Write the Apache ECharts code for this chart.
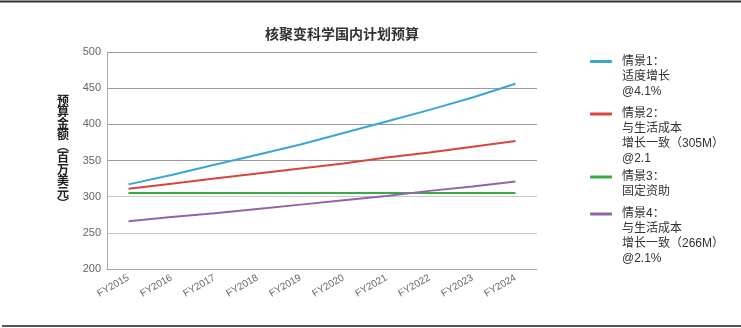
<!DOCTYPE html>
<html>
<head>
<meta charset="utf-8">
<script src="https://cdn.jsdelivr.net/npm/echarts@6/dist/echarts.min.js"></script>
<style>html,body{margin:0;padding:0;background:#fff;}#c{width:741px;height:328px;}</style>
</head>
<body>
<div id="c"></div>
<script>
const categories = ['FY2015','FY2016','FY2017','FY2018','FY2019','FY2020','FY2021','FY2022','FY2023','FY2024'];
const scenario1 = [317, 330, 344, 358, 372, 388, 404, 420, 437, 456];
const scenario2 = [311, 318, 325, 332, 339, 346, 354, 361, 369, 377];
const scenario3 = [305, 305, 305, 305, 305, 305, 305, 305, 305, 305];
const scenario4 = [266, 272, 277, 283, 289, 295, 301, 308, 314, 321];
const seriesNames = ['情景1：', '情景2：', '情景3：', '情景4：'];
const legendLines = [
  ['情景1：', '适度增长', '@4.1%'],
  ['情景2：', '与生活成本', '增长一致（305M）', '@2.1'],
  ['情景3：', '固定资助'],
  ['情景4：', '与生活成本', '增长一致（266M）', '@2.1%']
];
const yTicks = [200, 250, 300, 350, 400, 450, 500];
const titleText = '核聚变科学国内计划预算';
const yName = ['预','算','金','额','︵','百','万','美','元','︶'];

const FONT = "'Liberation Sans', 'Noto Sans CJK SC', sans-serif";
const colors = ['#3aa6d6', '#d9443c', '#3aaa45', '#8e66a8'];
const dataAll = [scenario1, scenario2, scenario3, scenario4];
const L = 15;
const iconCenters = [61.5, 114, 177, 214];

const legends = legendLines.map((lines, i) => {
  const n = lines.length;
  const N = 2 * n - 1;
  return {
    data: [seriesNames[i]],
    left: 590,
    top: iconCenters[i] - N * L / 2,
    padding: 0,
    icon: 'roundRect',
    itemWidth: 22,
    itemHeight: 3,
    selectedMode: false,
    formatter: function () {
      const blanks = new Array(n - 1).fill(' ');
      return blanks.concat(lines).join('\n');
    },
    textStyle: { fontSize: 12, color: '#333', lineHeight: L, fontFamily: FONT, padding: [0, 0, 0, 5] }
  };
});

const chart = echarts.init(document.getElementById('c'));
chart.setOption({
  backgroundColor: '#fff',
  animation: false,
  color: colors,
  title: {
    text: titleText,
    left: 337,
    top: 23,
    textAlign: 'center',
    textStyle: { fontSize: 14, fontWeight: 'bold', color: '#333', fontFamily: FONT }
  },
  legend: legends,
  grid: { left: 107, right: 204, top: 52, bottom: 59 },
  xAxis: {
    type: 'category',
    data: categories,
    boundaryGap: true,
    axisLine: { show: true, lineStyle: { color: '#aaa', width: 1 } },
    axisTick: { show: false },
    axisLabel: { interval: 0, rotate: 30, color: '#666', fontSize: 10, fontFamily: FONT, margin: 8 },
    splitLine: { show: false }
  },
  yAxis: {
    type: 'value',
    min: yTicks[0],
    max: yTicks[yTicks.length - 1],
    interval: 50,
    axisLine: { show: true, lineStyle: { color: '#aaa', width: 1 } },
    axisTick: { show: false },
    axisLabel: { color: '#666', fontSize: 11, fontFamily: FONT, margin: 6 },
    splitLine: { show: true, lineStyle: { color: ['#aaa', '#c8c8c8', '#c8c8c8', '#999', '#999', '#999', '#999'], width: 1 } }
  },
  series: dataAll.map((d, i) => ({
    name: seriesNames[i],
    type: 'line',
    data: d,
    symbol: 'none',
    smooth: false,
    lineStyle: { width: 2, color: colors[i] },
    itemStyle: { color: colors[i] }
  })),
  graphic: [
    { type: 'line', shape: { x1: 0, y1: 1.5, x2: 741, y2: 1.5 }, style: { stroke: '#333', lineWidth: 2 } },
    { type: 'line', shape: { x1: 2, y1: 326, x2: 741, y2: 326 }, style: { stroke: '#555', lineWidth: 2 } },
    { type: 'text', x: 63, y: 153, style: { text: yName.join('\n'), fontSize: 12, fontWeight: 'bold', lineHeight: 11.5, fill: '#222', align: 'center', verticalAlign: 'middle', fontFamily: FONT } }
  ]
});
</script>
</body>
</html>
